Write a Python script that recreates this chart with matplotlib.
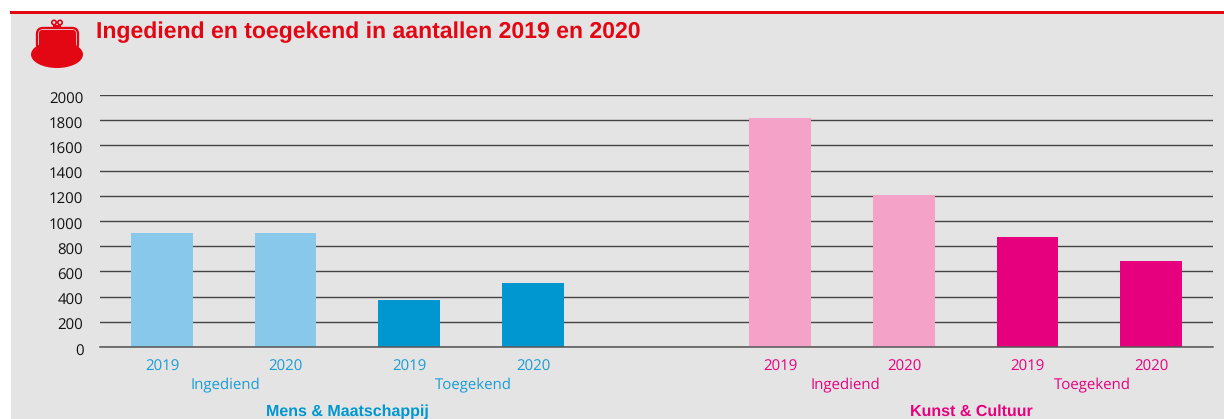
import matplotlib
matplotlib.use('Agg')
import matplotlib.pyplot as plt
from matplotlib.patches import Ellipse, FancyBboxPatch, Circle, Rectangle
from matplotlib.transforms import ScaledTranslation

plt.rcParams['text.hinting'] = 'none'
plt.rcParams['text.hinting_factor'] = 1

# data
jaren = ['2019', '2020', '2019', '2020', '', '2019', '2020', '2019', '2020']
waarden = [905, 905, 370, 510, 0, 1815, 1205, 870, 680]
kleuren = ['#88c9eb', '#88c9eb', '#0096d0', '#0096d0', 'none',
           '#f4a2c7', '#f4a2c7', '#e6007e', '#e6007e']
yticks = [0, 200, 400, 600, 800, 1000, 1200, 1400, 1600, 1800, 2000]

BLAUW = '#1a9cd4'
ROZE = '#e6007e'
ROOD = '#e30613'
W, H = 1224, 419

fig = plt.figure(figsize=(W / 100, H / 100), dpi=100, facecolor='white')

# overlay in pixels for panel, top line and purse
bg = fig.add_axes([0, 0, 1, 1], zorder=0)
bg.set_xlim(0, W)
bg.set_ylim(H, 0)
bg.axis('off')
bg.add_patch(Rectangle((11, 13), W - 11, H - 13, color='#e4e4e4', lw=0))
bg.add_patch(Rectangle((10, 11), W - 10, 3, color=ROOD, lw=0))

# purse icon
bg.add_patch(Ellipse((57, 54.5), 52, 27, color=ROOD, lw=0))
bg.add_patch(FancyBboxPatch((37, 28), 41, 22, boxstyle='round,pad=0,rounding_size=6',
                            fc='none', ec=ROOD, lw=1.7))
bg.add_patch(FancyBboxPatch((39, 30), 37, 18, boxstyle='round,pad=0,rounding_size=3',
                            fc=ROOD, ec='none', lw=0))
bg.add_patch(Circle((54, 22.5), 2.2, fc='none', ec=ROOD, lw=1.2))
bg.add_patch(Circle((60, 22.5), 2.2, fc='none', ec=ROOD, lw=1.2))
bg.add_patch(Rectangle((53, 25), 8, 3, color=ROOD, lw=0))

# chart
ax = fig.add_axes([100 / W, 1 - 347 / H, 1113 / W, 252 / H], zorder=1)
ax.patch.set_alpha(0)
ax.set_axisbelow(True)
ax.bar(range(len(waarden)), waarden, width=0.5, color=kleuren, zorder=2)
ax.set_xlim(-0.5, 8.5)
ax.set_ylim(0, 2000)
ax.set_yticks(yticks)
ax.set_xticks([])
for s in ['top', 'right', 'left']:
    ax.spines[s].set_visible(False)
ax.spines['bottom'].set_color('#555555')
ax.spines['bottom'].set_linewidth(1.1)
ax.grid(axis='y', color='#444444', lw=1.0)
ax.tick_params(axis='y', length=0, pad=12, labelsize=10.5)
omlaag = ScaledTranslation(0, -4.5 / 100, fig.dpi_scale_trans)
for lab in ax.get_yticklabels():
    lab.set_family('Open Sans')
    lab.set_color('#111111')
    lab.set_va('center')
    lab.set_transform(lab.get_transform() + omlaag)

font = 'Open Sans'
for i, j in enumerate(jaren):
    if j:
        fig.text((162 + i * 123.67) / W, 1 - 366.5 / H, j, ha='center', va='center',
                 fontsize=10.5, family=font, color=BLAUW if i < 4 else ROZE)

for x, t, c in [(225, 'Ingediend', BLAUW), (473, 'Toegekend', BLAUW),
                (845, 'Ingediend', ROZE), (1092, 'Toegekend', ROZE)]:
    fig.text(x / W, 1 - 385 / H, t, ha='center', va='center', fontsize=10.5, family=font, color=c)

fig.text(347 / W, 1 - 411.5 / H, 'Mens & Maatschappij', ha='center', va='center',
         fontsize=11.85, family='Liberation Sans', weight='bold', color='#0096d0')
fig.text(971 / W, 1 - 411.5 / H, 'Kunst & Cultuur', ha='center', va='center',
         fontsize=11.85, family='Liberation Sans', weight='bold', color=ROZE)

fig.text(96 / W, 1 - 32 / H, 'Ingediend en toegekend in aantallen 2019 en 2020', ha='left', va='center',
         fontsize=16.35, family='Liberation Sans', weight='bold', color=ROOD)

fig.savefig('out.png', dpi=100)
